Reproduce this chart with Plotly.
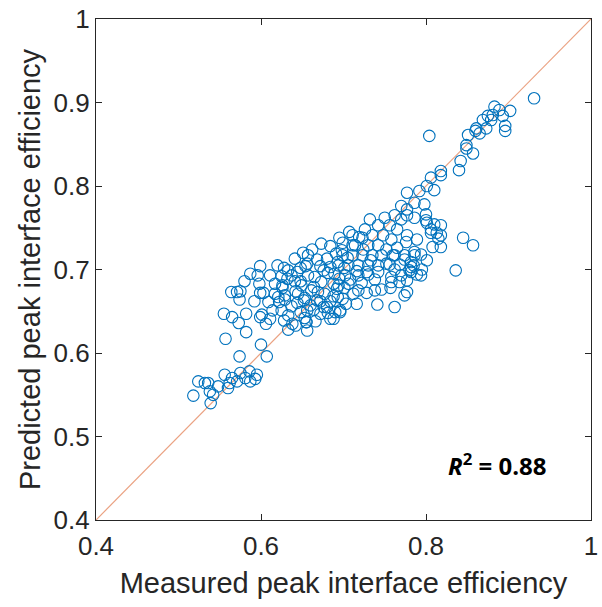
import plotly.graph_objects as go

# Measured (x) vs predicted (y) peak interface efficiency
measured = [
    0.651, 0.599, 0.620, 0.596, 0.611, 0.580, 0.564, 0.575, 0.574, 0.599,
    0.555, 0.565, 0.573, 0.582, 0.599, 0.606, 0.582, 0.557, 0.600, 0.607,
    0.574, 0.524, 0.536, 0.556, 0.565, 0.575, 0.586, 0.595, 0.562, 0.571,
    0.581, 0.587, 0.538, 0.548, 0.560, 0.518, 0.542, 0.539, 0.532, 0.593,
    0.657, 0.625, 0.633, 0.648, 0.656, 0.672, 0.680, 0.691, 0.698, 0.617,
    0.632, 0.641, 0.657, 0.665, 0.681, 0.689, 0.701, 0.626, 0.642, 0.649,
    0.664, 0.673, 0.688, 0.695, 0.571, 0.621, 0.629, 0.645, 0.653, 0.669,
    0.677, 0.692, 0.622, 0.637, 0.644, 0.660, 0.668, 0.684, 0.693, 0.625,
    0.633, 0.648, 0.656, 0.672, 0.680, 0.696, 0.601, 0.628, 0.638, 0.653,
    0.666, 0.681, 0.688, 0.642, 0.655,
    0.732, 0.750, 0.762, 0.770, 0.786, 0.800, 0.810, 0.818, 0.726, 0.742,
    0.756, 0.765, 0.777, 0.789, 0.806, 0.818, 0.711, 0.723, 0.735, 0.748,
    0.758, 0.699, 0.714, 0.730, 0.742, 0.752, 0.699, 0.711, 0.723, 0.735,
    0.746, 0.760, 0.774, 0.786, 0.801, 0.694, 0.706, 0.718, 0.730, 0.742,
    0.756, 0.768, 0.782, 0.795, 0.702, 0.718, 0.730, 0.742, 0.758, 0.770,
    0.780, 0.789, 0.694, 0.706, 0.718, 0.738, 0.758, 0.768, 0.777, 0.777,
    0.699, 0.696, 0.762, 0.655, 0.690, 0.746, 0.774,
    0.818, 0.806, 0.810, 0.801, 0.777, 0.792, 0.786, 0.798, 0.770, 0.777,
    0.777, 0.800, 0.801, 0.813, 0.806, 0.818, 0.845, 0.857, 0.762, 0.774,
    0.786, 0.836, 0.782, 0.762, 0.782, 0.794,
    0.931, 0.883, 0.881, 0.889, 0.875, 0.893, 0.902, 0.869, 0.879, 0.861,
    0.873, 0.865, 0.860, 0.851, 0.896, 0.896, 0.849, 0.857, 0.849, 0.842,
    0.840, 0.818, 0.804,
    0.628, 0.641, 0.662, 0.668, 0.676, 0.684, 0.693, 0.705, 0.711, 0.716,
    0.708, 0.701, 0.688, 0.672, 0.661, 0.648, 0.637, 0.626, 0.617, 0.609,
    0.614, 0.629, 0.652, 0.664, 0.676, 0.703, 0.712, 0.722, 0.728, 0.733,
    0.724, 0.719, 0.707, 0.695, 0.684, 0.673, 0.654, 0.644, 0.598, 0.587,
    0.603, 0.592, 0.611, 0.633, 0.656, 0.684, 0.716, 0.738, 0.752, 0.765,
    0.776, 0.741, 0.728, 0.757, 0.785, 0.794, 0.808, 0.815,
]

predicted = [
    0.720, 0.704, 0.705, 0.693, 0.693, 0.686, 0.673, 0.674, 0.664, 0.672,
    0.647, 0.643, 0.636, 0.647, 0.643, 0.635, 0.625, 0.617, 0.610, 0.596,
    0.596, 0.566, 0.564, 0.574, 0.570, 0.576, 0.578, 0.574, 0.564, 0.566,
    0.570, 0.566, 0.554, 0.560, 0.558, 0.549, 0.550, 0.540, 0.564, 0.569,
    0.717, 0.692, 0.699, 0.702, 0.707, 0.704, 0.713, 0.719, 0.723, 0.683,
    0.689, 0.686, 0.693, 0.691, 0.696, 0.695, 0.702, 0.678, 0.674, 0.681,
    0.679, 0.685, 0.683, 0.689, 0.673, 0.667, 0.669, 0.671, 0.666, 0.673,
    0.671, 0.677, 0.661, 0.656, 0.660, 0.657, 0.663, 0.662, 0.667, 0.651,
    0.645, 0.649, 0.651, 0.647, 0.655, 0.651, 0.646, 0.639, 0.635, 0.642,
    0.638, 0.648, 0.641, 0.633, 0.637,
    0.760, 0.762, 0.765, 0.760, 0.762, 0.759, 0.754, 0.753, 0.748, 0.753,
    0.753, 0.748, 0.741, 0.736, 0.744, 0.741, 0.741, 0.738, 0.741, 0.741,
    0.736, 0.732, 0.729, 0.729, 0.729, 0.724, 0.717, 0.717, 0.717, 0.717,
    0.717, 0.717, 0.717, 0.717, 0.711, 0.705, 0.705, 0.705, 0.705, 0.705,
    0.706, 0.706, 0.709, 0.700, 0.693, 0.693, 0.694, 0.697, 0.691, 0.693,
    0.699, 0.694, 0.681, 0.683, 0.675, 0.675, 0.685, 0.685, 0.687, 0.673,
    0.665, 0.649, 0.655, 0.637, 0.649, 0.676, 0.669,
    0.813, 0.810, 0.795, 0.800, 0.792, 0.794, 0.780, 0.778, 0.776, 0.772,
    0.765, 0.766, 0.756, 0.744, 0.748, 0.727, 0.738, 0.729, 0.717, 0.712,
    0.721, 0.699, 0.703, 0.700, 0.697, 0.693,
    0.905, 0.895, 0.885, 0.891, 0.884, 0.884, 0.890, 0.879, 0.879, 0.869,
    0.869, 0.863, 0.866, 0.861, 0.872, 0.866, 0.849, 0.839, 0.845, 0.830,
    0.819, 0.818, 0.860,
    0.702, 0.713, 0.724, 0.712, 0.699, 0.703, 0.709, 0.714, 0.729, 0.698,
    0.688, 0.678, 0.668, 0.662, 0.675, 0.686, 0.693, 0.681, 0.671, 0.661,
    0.651, 0.664, 0.663, 0.652, 0.655, 0.659, 0.671, 0.684, 0.697, 0.711,
    0.724, 0.739, 0.745, 0.738, 0.728, 0.731, 0.704, 0.697, 0.683, 0.695,
    0.672, 0.662, 0.641, 0.628, 0.627, 0.641, 0.659, 0.688, 0.707, 0.726,
    0.733, 0.658, 0.672, 0.678, 0.705, 0.718, 0.727, 0.737,
]

identity = [0.4, 1.0]
x_ticks = [0.4, 0.6, 0.8, 1.0]
x_tick_labels = ["0.4", "0.6", "0.8", "1"]
y_ticks = [0.4, 0.5, 0.6, 0.7, 0.8, 0.9, 1.0]
y_tick_labels = ["0.4", "0.5", "0.6", "0.7", "0.8", "0.9", "1"]

fig = go.Figure()
fig.add_trace(go.Scatter(
    x=identity, y=identity, mode="lines",
    line=dict(color="rgba(217,83,25,0.55)", width=1.2),
    hoverinfo="skip", showlegend=False,
))
fig.add_trace(go.Scatter(
    x=measured, y=predicted, mode="markers",
    marker=dict(symbol="circle-open", size=11.5, color="#0072BD",
                line=dict(width=1.1, color="#0072BD")),
    showlegend=False,
))

axis_common = dict(
    showgrid=False, zeroline=False, showline=True, linecolor="#262626",
    linewidth=1.3, mirror="ticks", ticks="inside", ticklen=6,
    tickwidth=1, tickcolor="#262626", ticklabeloverflow="allow",
    tickfont=dict(family="Liberation Sans, Arial", size=26, color="#262626"),
)

fig.update_layout(
    width=602, height=607,
    margin=dict(l=96, r=4, t=15, b=87),
    paper_bgcolor="white", plot_bgcolor="white",
    xaxis=dict(range=[0.4, 1.0], tickvals=x_ticks, ticktext=x_tick_labels,
               ticklabelstandoff=3,
               title=dict(text="Measured peak interface efficiency",
                          font=dict(family="Liberation Sans, Arial", size=29, color="#262626"),
                          standoff=12),
               **axis_common),
    yaxis=dict(range=[0.4, 1.0], tickvals=y_ticks, ticktext=y_tick_labels,
               title=dict(text="Predicted peak interface efficiency",
                          font=dict(family="Liberation Sans, Arial", size=29, color="#262626"),
                          standoff=4),
               **axis_common),
    annotations=[dict(
        x=0.886, y=0.467, xref="x", yref="y", showarrow=False,
        text="<b><i>R</i><sup>2</sup> = 0.88</b>",
        font=dict(family="Open Sans", size=24, color="black"),
    )],
)

fig.write_html("out.html")
